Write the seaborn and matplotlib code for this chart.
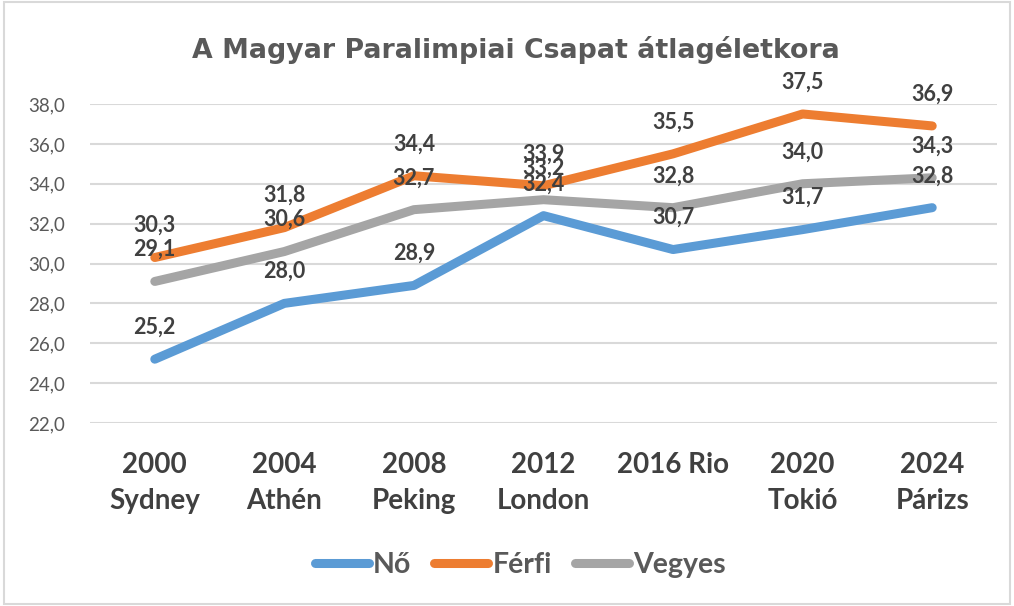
import pandas as pd
import seaborn as sns
import matplotlib.pyplot as plt
from matplotlib.ticker import FuncFormatter
from matplotlib.patches import Rectangle

# adatok
helyszinek = ['2000\nSydney', '2004\nAthén', '2008\nPeking', '2012\nLondon',
              '2016 Rio', '2020\nTokió', '2024\nPárizs']
no = [25.2, 28.0, 28.9, 32.4, 30.7, 31.7, 32.8]
ferfi = [30.3, 31.8, 34.4, 33.9, 35.5, 37.5, 36.9]
vegyes = [29.1, 30.6, 32.7, 33.2, 32.8, 34.0, 34.3]

sorozatok = {'Nő': no, 'Férfi': ferfi, 'Vegyes': vegyes}
szinek = {'Nő': '#5B9BD5', 'Férfi': '#ED7D31', 'Vegyes': '#A5A5A5'}

df = pd.concat([
    pd.DataFrame({'idx': range(len(helyszinek)), 'kor': v, 'nem': k})
    for k, v in sorozatok.items()
])

sns.set_theme(style='white')
plt.rcParams['font.family'] = ['Lato', 'DejaVu Sans']

fig = plt.figure(figsize=(10.14, 6.06), dpi=100)
fig.patches.append(Rectangle((0.004, 0.004), 0.992, 0.992, transform=fig.transFigure,
                             fill=False, edgecolor='#D9D9D9', lw=1.5))
ax = fig.add_axes([90 / 1014, 1 - 423 / 606, 907 / 1014, 319 / 606])

sns.lineplot(data=df, x='idx', y='kor', hue='nem', palette=szinek, lw=6.5,
             solid_capstyle='round', legend=False, ax=ax, zorder=3)

# adatcímkék
for k, v in sorozatok.items():
    for i, y in enumerate(v):
        ax.annotate(f'{y:.1f}'.replace('.', ','), (i, y), xytext=(0, 23),
                    textcoords='offset points', ha='center', va='center',
                    fontsize=15.5, fontweight='bold', color='#404040',
                    zorder=5, annotation_clip=False)

ax.set_xlim(-0.5, len(helyszinek) - 0.5)
ax.set_ylim(22, 38)
ax.set_yticks(range(22, 39, 2))
ax.yaxis.set_major_formatter(FuncFormatter(lambda v, p: f'{v:.1f}'.replace('.', ',')))
ax.set_xticks(range(len(helyszinek)))
ax.set_xticklabels(helyszinek, fontsize=20, fontweight='bold', color='#404040',
                   linespacing=1.45)
ax.tick_params(axis='y', labelsize=13.5, labelcolor='#595959', length=0, pad=18)
ax.tick_params(axis='x', length=0, pad=21)
ax.grid(axis='y', color='#D9D9D9', lw=1.5)
ax.set_axisbelow(True)
for s in ax.spines.values():
    s.set_visible(False)
ax.set_xlabel('')
ax.set_ylabel('')

fig.text(0.509, 1 - 58 / 606, 'A Magyar Paralimpiai Csapat átlagéletkora', ha='center',
         va='baseline', fontsize=19.3, fontweight='bold', color='#595959',
         family='DejaVu Sans')

handles = [plt.Line2D([], [], color=szinek[k], lw=6.5, solid_capstyle='round')
           for k in sorozatok]
leg = fig.legend(handles, list(sorozatok), loc='center', bbox_to_anchor=(0.513, 0.067),
                 ncol=3, frameon=False, handlelength=1.9, handletextpad=0.15,
                 columnspacing=0.8,
                 prop={'size': 20.5, 'weight': 'bold'})
for t in leg.get_texts():
    t.set_color('#595959')

fig.savefig('out.png', dpi=100)
